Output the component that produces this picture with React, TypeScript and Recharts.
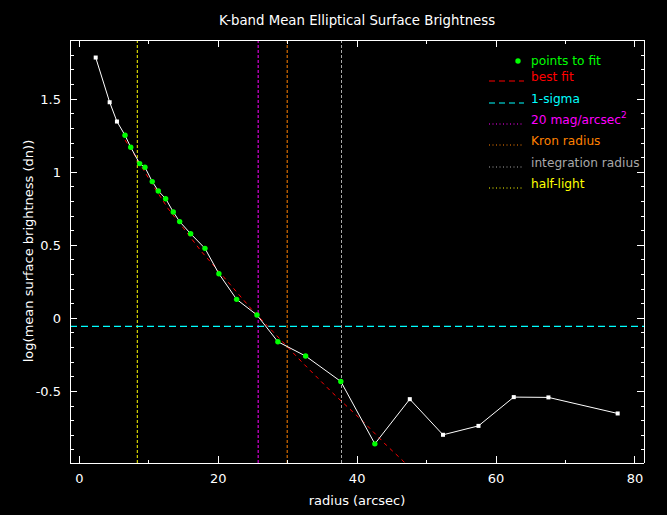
import React from 'react';
import { ComposedChart, Line, XAxis, YAxis, ReferenceLine } from 'recharts';

// ---- data ----
const radius = [2.36, 4.37, 5.42, 6.58, 7.4, 8.69, 9.45, 10.5, 11.37, 12.43, 13.53, 14.45, 16.03, 18.09, 20.1, 22.65, 25.57, 28.59, 32.58, 37.65, 42.55, 47.58, 52.36, 57.47, 62.55, 67.54, 77.51];
const logSB = [1.785, 1.479, 1.347, 1.253, 1.171, 1.059, 1.034, 0.936, 0.872, 0.819, 0.728, 0.662, 0.579, 0.479, 0.305, 0.13, 0.023, -0.16, -0.258, -0.432, -0.859, -0.553, -0.797, -0.736, -0.539, -0.541, -0.651];
const FIT_FIRST = 3;
const FIT_LAST = 20;

const fitRadius = [6.6, 8.1, 10.4, 12.8, 15.0, 17.6, 21.7, 24.8, 27.9, 32.0, 36.3, 40.9, 44.2, 46.6, 47.6];
const fitLogSB = [1.22, 1.107, 0.925, 0.75, 0.616, 0.456, 0.233, 0.062, -0.092, -0.297, -0.503, -0.708, -0.868, -0.975, -1.03];

const oneSigma = -0.055;
const halfLight = 8.35;
const mag20 = 25.75;
const kronRadius = 29.93;
const integrationRadius = 37.75;

const xTicks = [0, 10, 20, 30, 40, 50, 60, 70, 80];
const xMajor = [0, 20, 40, 60, 80];
const yTicks = [-0.9, -0.8, -0.7, -0.6, -0.5, -0.4, -0.3, -0.2, -0.1, 0, 0.1, 0.2, 0.3, 0.4, 0.5, 0.6, 0.7, 0.8, 0.9, 1.0, 1.1, 1.2, 1.3, 1.4, 1.5, 1.6, 1.7, 1.8, 1.9];
const yMajor = [-0.5, 0, 0.5, 1, 1.5];

const profile = radius.map((r, i) => ({ r, v: logSB[i], fit: i >= FIT_FIRST && i <= FIT_LAST }));
const bestFit = fitRadius.map((r, i) => ({ r, v: fitLogSB[i] }));

const FONT = '"DejaVu Sans", sans-serif';
const W = 667;
const H = 515;
const MAJ = 7;
const MIN = 3.5;
const CRISP = 'crispEdges';

const isMajorY = (v: number) => yMajor.some((m) => Math.abs(m - v) < 1e-6);

const XTickBottom = (p: any) => {
  const { x, y, payload } = p;
  const major = xMajor.includes(payload.value);
  return (
    <g>
      <line x1={x} x2={x} y1={y} y2={y - (major ? MAJ : MIN)} stroke="#fff" shapeRendering={CRISP} />
      {major && (
        <text x={x} y={y + 20} textAnchor="middle" fill="#fff" fontSize={13} fontFamily={FONT}>
          {payload.value}
        </text>
      )}
    </g>
  );
};
const XTickTop = (p: any) => {
  const { x, y, payload } = p;
  const major = xMajor.includes(payload.value);
  return <line x1={x} x2={x} y1={y} y2={y + (major ? MAJ : MIN)} stroke="#fff" shapeRendering={CRISP} />;
};
const YTickLeft = (p: any) => {
  const { x, y, payload } = p;
  const major = isMajorY(payload.value);
  return (
    <g>
      <line x1={x} x2={x + (major ? MAJ : MIN)} y1={y} y2={y} stroke="#fff" shapeRendering={CRISP} />
      {major && (
        <text x={x - 9} y={y + 5} textAnchor="end" fill="#fff" fontSize={13} fontFamily={FONT}>
          {String(Math.round(payload.value * 10) / 10)}
        </text>
      )}
    </g>
  );
};
const YTickRight = (p: any) => {
  const { x, y, payload } = p;
  const major = isMajorY(payload.value);
  return <line x1={x} x2={x - (major ? MAJ : MIN)} y1={y} y2={y} stroke="#fff" shapeRendering={CRISP} />;
};

const renderDot = (p: any) => {
  const { cx, cy, index, payload } = p;
  if (payload.fit) {
    return <circle key={`d${index}`} cx={cx} cy={cy} r={2.7} fill="#00ff00" />;
  }
  return <rect key={`d${index}`} x={cx - 2} y={cy - 2} width={4} height={4} fill="#ffffff" />;
};

const legendRows = [
  { label: 'points to fit', color: '#00ff00', kind: 'point', y: 61 },
  { label: 'best fit', color: '#ff0000', kind: 'dash', y: 77 },
  { label: '1-sigma', color: '#00ffff', kind: 'dash', y: 99 },
  { label: '20 mag/arcsec', color: '#ff00ff', kind: 'dot', y: 120, sup: '2' },
  { label: 'Kron radius', color: '#ff8000', kind: 'dot', y: 141 },
  { label: 'integration radius', color: '#a8a8a8', kind: 'dot', y: 163 },
  { label: 'half-light', color: '#ffff00', kind: 'dot', y: 184 },
];

const axisLineStyle = { stroke: '#ffffff', strokeWidth: 1, shapeRendering: CRISP };

export default function App() {
  return (
    <div style={{ position: 'absolute', left: 0, top: 0, width: W, height: H, background: '#000', overflow: 'hidden' }}>
      <ComposedChart width={W} height={H} margin={{ top: 30, right: 13, bottom: 22, left: 20 }} style={{ background: '#000' }}>
        <XAxis xAxisId="b" type="number" dataKey="r" domain={[-1.34, 81.3]} ticks={xTicks} interval={0} allowDataOverflow
          orientation="bottom" height={30} tickSize={0} tickMargin={0} stroke="#fff" axisLine={axisLineStyle} tickLine={false} tick={XTickBottom} />
        <XAxis xAxisId="t" type="number" dataKey="r" domain={[-1.34, 81.3]} ticks={xTicks} interval={0} allowDataOverflow
          orientation="top" height={10} tickSize={0} tickMargin={0} stroke="#fff" axisLine={axisLineStyle} tickLine={false} tick={XTickTop} />
        <YAxis yAxisId="l" type="number" domain={[-0.99, 1.905]} ticks={yTicks} interval={0} allowDataOverflow
          orientation="left" width={50} tickSize={0} tickMargin={0} stroke="#fff" axisLine={axisLineStyle} tickLine={false} tick={YTickLeft} />
        <YAxis yAxisId="r" type="number" domain={[-0.99, 1.905]} ticks={yTicks} interval={0} allowDataOverflow
          orientation="right" width={10} tickSize={0} tickMargin={0} stroke="#fff" axisLine={axisLineStyle} tickLine={false} tick={YTickRight} />

        <ReferenceLine xAxisId="b" yAxisId="l" x={halfLight} stroke="#ffff00" strokeDasharray="3 2" />
        <ReferenceLine xAxisId="b" yAxisId="l" x={mag20} stroke="#ff00ff" strokeDasharray="3 2" />
        <ReferenceLine xAxisId="b" yAxisId="l" x={kronRadius} stroke="#ff8000" strokeDasharray="3 2" />
        <ReferenceLine xAxisId="b" yAxisId="l" x={integrationRadius} stroke="#a8a8a8" strokeDasharray="3 2" />
        <ReferenceLine xAxisId="b" yAxisId="l" y={oneSigma} stroke="#00ffff" strokeWidth={1.3} strokeDasharray="7 4" />

        <Line xAxisId="b" yAxisId="l" data={bestFit} dataKey="v" type="linear" stroke="#ff0000" strokeWidth={1}
          strokeDasharray="4 4" dot={false} activeDot={false} isAnimationActive={false} />
        <Line xAxisId="b" yAxisId="l" data={profile} dataKey="v" type="linear" stroke="#ffffff" strokeWidth={1}
          dot={renderDot} activeDot={false} isAnimationActive={false} />
      </ComposedChart>

      <div style={{ position: 'absolute', left: 70, width: 574, top: 13, textAlign: 'center', color: '#fff', fontFamily: FONT, fontSize: 13.3, lineHeight: '16px' }}>
        K-band Mean Elliptical Surface Brightness
      </div>
      <div style={{ position: 'absolute', left: 70, width: 574, top: 493, textAlign: 'center', color: '#fff', fontFamily: FONT, fontSize: 13, lineHeight: '16px' }}>
        radius (arcsec)
      </div>
      <div style={{ position: 'absolute', left: 29 - 150, width: 300, top: 251 - 8, textAlign: 'center', color: '#fff', fontFamily: FONT, fontSize: 13, lineHeight: '16px', transform: 'rotate(-90deg)' }}>
        log(mean surface brightness (dn))
      </div>

      <svg style={{ position: 'absolute', left: 0, top: 0 }} width={W} height={H} pointerEvents="none">
        {legendRows.map((row) => (
          <g key={row.label}>
            {row.kind === 'point' && <circle cx={518} cy={row.y} r={2.7} fill={row.color} />}
            {row.kind === 'dash' && <line x1={489} x2={524} y1={row.y + 4} y2={row.y + 4} stroke={row.color} strokeDasharray="6 4" />}
            {row.kind === 'dot' && <line x1={489} x2={524} y1={row.y + 4} y2={row.y + 4} stroke={row.color} strokeDasharray="1 2.5" />}
            <text x={531} y={row.y + 4} fill={row.color} fontSize={12.2} fontFamily={FONT}>
              {row.label}
              {row.sup && <tspan dy={-6} fontSize={9}>{row.sup}</tspan>}
            </text>
          </g>
        ))}
      </svg>
    </div>
  );
}
